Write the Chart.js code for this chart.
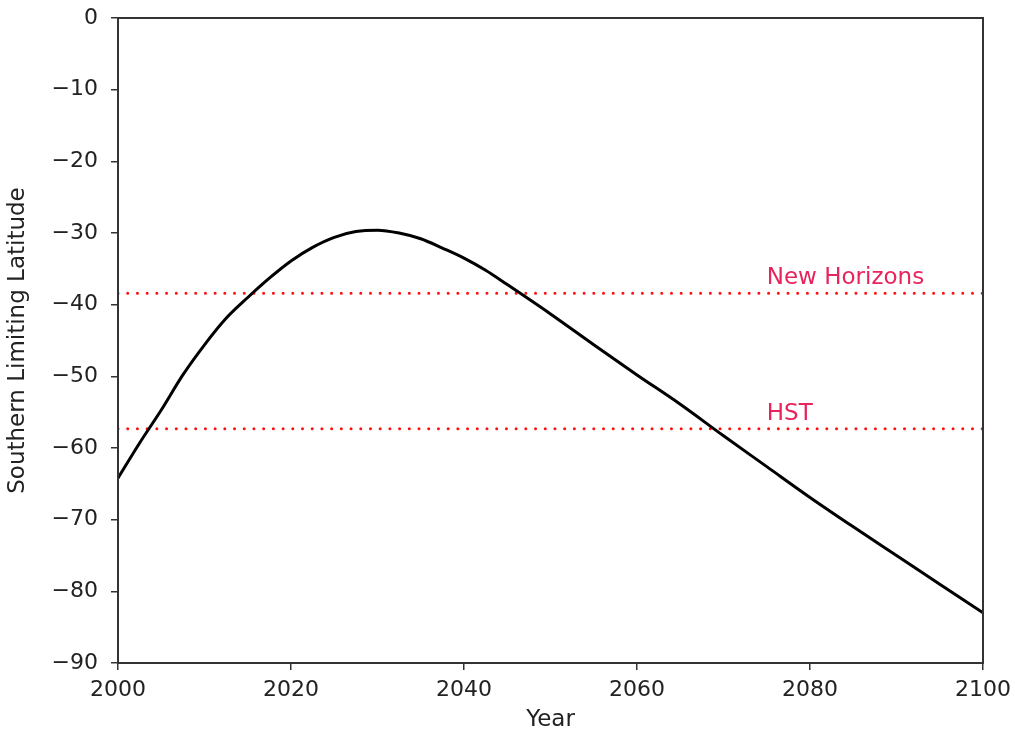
<!DOCTYPE html>
<html>
<head>
<meta charset="utf-8">
<script src="https://cdn.jsdelivr.net/npm/chart.js@4"></script>
<style>
  html, body { margin: 0; padding: 0; background: #fff; }
  #wrap { width: 1015px; height: 738px; }
</style>
</head>
<body>
<div id="wrap"><canvas id="c" width="1015" height="738"></canvas></div>
<script>
// values
var years = [2000, 2002.5, 2005, 2007.5, 2010, 2012.5, 2015, 2017.5, 2020, 2022.5, 2025,
             2027.5, 2030, 2032.5, 2035, 2037.5, 2040, 2042.5, 2045, 2050, 2055,
             2060, 2065, 2070, 2075, 2080, 2085, 2090, 2095, 2100];
var latitude = [-64.2, -59.3, -54.7, -49.8, -45.6, -41.9, -39.0, -36.3, -33.9, -32.0, -30.6,
                -29.8, -29.6, -30.0, -30.8, -32.1, -33.5, -35.2, -37.2, -41.3, -45.6,
                -49.8, -53.9, -58.3, -62.6, -66.9, -71.0, -75.0, -79.0, -83.0];
var limitNames = ['New Horizons', 'HST'];
var limitValues = [-38.4, -57.3];
var limitLabelYear = 2075;
var xTicks = [2000, 2020, 2040, 2060, 2080, 2100];

var FONT = "'DejaVu Sans', sans-serif";
Chart.defaults.font.family = FONT;
Chart.defaults.color = '#222';

var curve = years.map(function (y, i) { return {x: y, y: latitude[i]}; });

var datasets = [{
    data: curve,
    borderColor: '#000',
    borderWidth: 3,
    pointRadius: 0,
    cubicInterpolationMode: 'monotone',
    fill: false
}];
limitValues.forEach(function (v) {
    datasets.push({
        data: [{x: years[0], y: v}, {x: years[years.length - 1], y: v}],
        borderColor: '#ff1010',
        borderWidth: 3,
        borderCapStyle: 'round',
        borderDash: [0.01, 9.7],
        pointRadius: 0,
        fill: false
    });
});

// frame + red labels
var frame = {
    id: 'frame',
    afterDatasetsDraw: function (chart) {
        var ctx = chart.ctx, a = chart.chartArea;
        ctx.save();
        ctx.strokeStyle = '#333';
        ctx.lineWidth = 2;
        ctx.strokeRect(a.left, a.top, a.right - a.left, a.bottom - a.top);
        ctx.fillStyle = '#e8245c';
        ctx.font = '23px ' + FONT;
        ctx.textBaseline = 'alphabetic';
        limitNames.forEach(function (n, i) {
            var px = chart.scales.x.getPixelForValue(limitLabelYear);
            var py = chart.scales.y.getPixelForValue(limitValues[i]);
            ctx.fillText(n, px, py - 9);
        });
        ctx.restore();
    }
};

new Chart(document.getElementById('c'), {
    type: 'line',
    data: { datasets: datasets },
    options: {
        responsive: false,
        animation: false,
        layout: { padding: { top: 18, right: 32, left: 0, bottom: 0 } },
        plugins: { legend: { display: false }, tooltip: { enabled: false } },
        scales: {
            x: {
                type: 'linear',
                min: 2000, max: 2100,
                afterBuildTicks: function (s) { s.ticks = xTicks.map(function (v) { return {value: v}; }); },
                afterFit: function (s) { s.height = 75; s.paddingLeft = 0; s.paddingRight = 0; },
                grid: { drawOnChartArea: false, drawTicks: true, tickLength: 7, color: '#333', lineWidth: 1.5 },
                border: { display: true, color: '#333', width: 2 },
                ticks: { padding: 7, font: { size: 22 }, color: '#222', maxRotation: 0,
                         callback: function (v) { return String(v); } },
                title: { display: true, text: 'Year', font: { size: 23 }, color: '#222', padding: { top: 0 } }
            },
            y: {
                min: -90, max: 0,
                afterFit: function (s) { s.width = 118; s.paddingTop = 0; s.paddingBottom = 0; },
                grid: { drawOnChartArea: false, drawTicks: true, tickLength: 7, color: '#333', lineWidth: 1.5 },
                border: { display: true, color: '#333', width: 2 },
                ticks: { stepSize: 10, padding: 13, font: { size: 22 }, color: '#222',
                         callback: function (v) { return String(v).replace('-', '\u2212'); } },
                title: { display: true, text: 'Southern Limiting Latitude', font: { size: 23 }, color: '#222', padding: { bottom: 0 } }
            }
        }
    },
    plugins: [frame]
});
</script>
</body>
</html>
